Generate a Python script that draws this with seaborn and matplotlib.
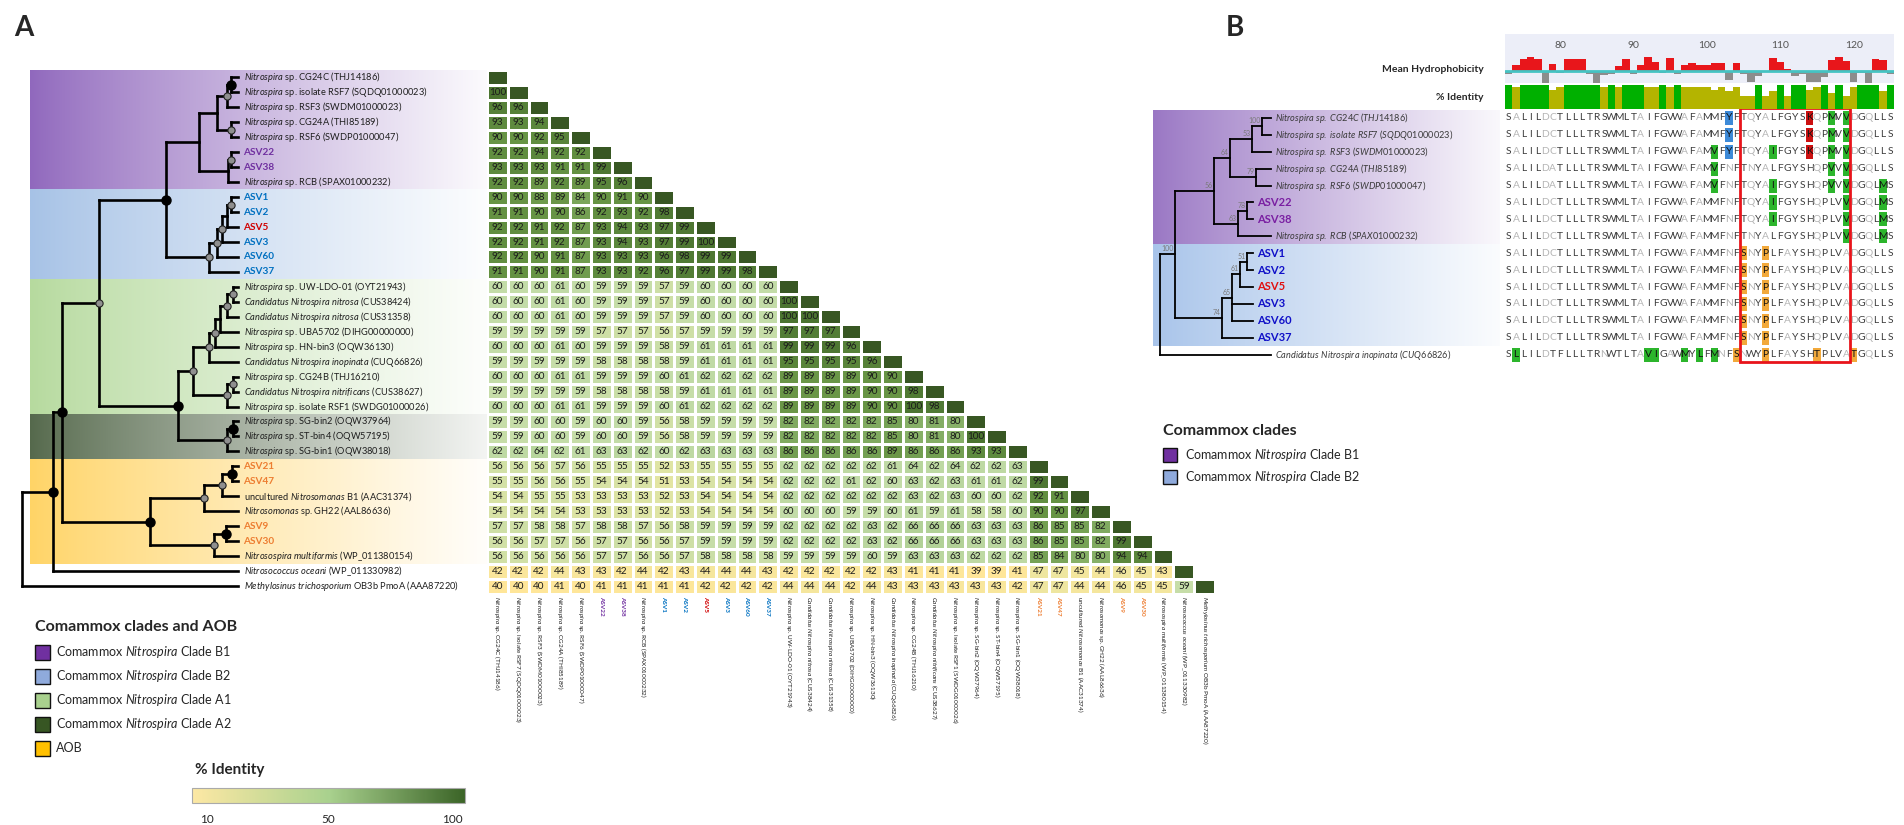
import numpy as np
import pandas as pd
import matplotlib
matplotlib.use("Agg")
import matplotlib.pyplot as plt
import seaborn as sns
from matplotlib.colors import LinearSegmentedColormap, ListedColormap, TwoSlopeNorm, to_rgb
from matplotlib.patches import Rectangle
import matplotlib.cm as cm

sns.set_style("white")
plt.rcParams["font.family"] = ["Lato", "DejaVu Sans"]
plt.rcParams["mathtext.fontset"] = "custom"
plt.rcParams["mathtext.rm"] = "Lato"
plt.rcParams["mathtext.it"] = "Lato:italic"
plt.rcParams["mathtext.bf"] = "Lato:bold"


def it(s):
    return "$\\it{" + s.replace(" ", "\\ ") + "}$"


# ---------------- panel A data ----------------
taxa = [
    it("Nitrospira") + " sp. CG24C (THJ14186)",
    it("Nitrospira") + " sp. isolate RSF7 (SQDQ01000023)",
    it("Nitrospira") + " sp. RSF3 (SWDM01000023)",
    it("Nitrospira") + " sp. CG24A (THI85189)",
    it("Nitrospira") + " sp. RSF6 (SWDP01000047)",
    "ASV22", "ASV38",
    it("Nitrospira") + " sp. RCB (SPAX01000232)",
    "ASV1", "ASV2", "ASV5", "ASV3", "ASV60", "ASV37",
    it("Nitrospira") + " sp. UW-LDO-01 (OYT21943)",
    it("Candidatus Nitrospira nitrosa") + " (CUS38424)",
    it("Candidatus Nitrospira nitrosa") + " (CUS31358)",
    it("Nitrospira") + " sp. UBA5702 (DIHG00000000)",
    it("Nitrospira") + " sp. HN-bin3 (OQW36130)",
    it("Candidatus Nitrospira inopinata") + " (CUQ66826)",
    it("Nitrospira") + " sp. CG24B (THJ16210)",
    it("Candidatus Nitrospira nitrificans") + " (CUS38627)",
    it("Nitrospira") + " sp. isolate RSF1 (SWDG01000026)",
    it("Nitrospira") + " sp. SG-bin2 (OQW37964)",
    it("Nitrospira") + " sp. ST-bin4 (OQW57195)",
    it("Nitrospira") + " sp. SG-bin1 (OQW38018)",
    "ASV21", "ASV47",
    "uncultured " + it("Nitrosomonas") + " B1 (AAC31374)",
    it("Nitrosomonas") + " sp. GH22 (AAL86636)",
    "ASV9", "ASV30",
    it("Nitrosospira multiformis") + " (WP_011380154)",
    it("Nitrosococcus oceani") + " (WP_011330982)",
    it("Methylosinus trichosporium") + " OB3b PmoA (AAA87220)",
]

asv_colors = {"ASV22": "#7030a0", "ASV38": "#7030a0",
              "ASV1": "#0070c0", "ASV2": "#0070c0", "ASV5": "#d00000", "ASV3": "#0070c0",
              "ASV60": "#0070c0", "ASV37": "#0070c0",
              "ASV21": "#ed7d31", "ASV47": "#ed7d31", "ASV9": "#ed7d31", "ASV30": "#ed7d31"}

# lower triangle of the % identity matrix (row i holds columns 1..i-1)
identity_rows = [
    [],
    [100],
    [96, 96],
    [93, 93, 94],
    [90, 90, 92, 95],
    [92, 92, 94, 92, 92],
    [93, 93, 93, 91, 91, 99],
    [92, 92, 89, 92, 89, 95, 96],
    [90, 90, 88, 89, 84, 90, 91, 90],
    [91, 91, 90, 90, 86, 92, 93, 92, 98],
    [92, 92, 91, 92, 87, 93, 94, 93, 97, 99],
    [92, 92, 91, 92, 87, 93, 94, 93, 97, 99, 100],
    [92, 92, 90, 91, 87, 93, 93, 93, 96, 98, 99, 99],
    [91, 91, 90, 91, 87, 93, 93, 92, 96, 97, 99, 99, 98],
    [60, 60, 60, 61, 60, 59, 59, 59, 57, 59, 60, 60, 60, 60],
    [60, 60, 60, 61, 60, 59, 59, 59, 57, 59, 60, 60, 60, 60, 100],
    [60, 60, 60, 61, 60, 59, 59, 59, 57, 59, 60, 60, 60, 60, 100, 100],
    [59, 59, 59, 59, 59, 57, 57, 57, 56, 57, 59, 59, 59, 59, 97, 97, 97],
    [60, 60, 60, 61, 60, 59, 59, 59, 58, 59, 61, 61, 61, 61, 99, 99, 99, 96],
    [59, 59, 59, 59, 59, 58, 58, 58, 58, 59, 61, 61, 61, 61, 95, 95, 95, 95, 96],
    [60, 60, 60, 61, 61, 59, 59, 59, 60, 61, 62, 62, 62, 62, 89, 89, 89, 89, 90, 90],
    [59, 59, 59, 59, 59, 58, 58, 58, 58, 59, 61, 61, 61, 61, 89, 89, 89, 89, 90, 90, 98],
    [60, 60, 60, 61, 61, 59, 59, 59, 60, 61, 62, 62, 62, 62, 89, 89, 89, 89, 90, 90, 100, 98],
    [59, 59, 60, 60, 59, 60, 60, 59, 56, 58, 59, 59, 59, 59, 82, 82, 82, 82, 82, 85, 80, 81, 80],
    [59, 59, 60, 60, 59, 60, 60, 59, 56, 58, 59, 59, 59, 59, 82, 82, 82, 82, 82, 85, 80, 81, 80, 100],
    [62, 62, 64, 62, 61, 63, 63, 62, 60, 62, 63, 63, 63, 63, 86, 86, 86, 86, 86, 89, 86, 86, 86, 93, 93],
    [56, 56, 56, 57, 56, 55, 55, 55, 52, 53, 55, 55, 55, 55, 62, 62, 62, 62, 62, 61, 64, 62, 64, 62, 62, 63],
    [55, 55, 56, 56, 55, 54, 54, 54, 51, 53, 54, 54, 54, 54, 62, 62, 62, 61, 62, 60, 63, 62, 63, 61, 61, 62, 99],
    [54, 54, 55, 55, 53, 53, 53, 53, 52, 53, 54, 54, 54, 54, 62, 62, 62, 62, 62, 62, 63, 62, 63, 60, 60, 62, 92, 91],
    [54, 54, 54, 54, 53, 53, 53, 53, 52, 53, 54, 54, 54, 54, 60, 60, 60, 59, 59, 60, 61, 59, 61, 58, 58, 60, 90, 90, 97],
    [57, 57, 58, 58, 57, 58, 58, 57, 56, 58, 59, 59, 59, 59, 62, 62, 62, 62, 63, 62, 66, 66, 66, 63, 63, 63, 86, 85, 85, 82],
    [56, 56, 57, 57, 56, 57, 57, 56, 56, 57, 59, 59, 59, 59, 62, 62, 62, 62, 63, 62, 66, 66, 66, 63, 63, 63, 86, 85, 85, 82, 99],
    [56, 56, 56, 56, 56, 57, 57, 56, 56, 57, 58, 58, 58, 58, 59, 59, 59, 59, 60, 59, 63, 63, 63, 62, 62, 62, 85, 84, 80, 80, 94, 94],
    [42, 42, 42, 44, 43, 43, 42, 44, 42, 43, 44, 44, 44, 43, 42, 42, 42, 42, 42, 43, 41, 41, 41, 39, 39, 41, 47, 47, 45, 44, 46, 45, 43],
    [40, 40, 40, 41, 40, 41, 41, 41, 41, 41, 42, 42, 42, 42, 44, 44, 44, 42, 44, 43, 43, 43, 43, 43, 43, 42, 47, 47, 44, 44, 46, 45, 45, 59],
]

# cladogram A: (node depth, support dot, children); leaves are row indices
tree_a = (22, "", [
    (53, "b", [
        (62, "b", [
            (99, "g", [
                (166, "b", [
                    (199, "", [
                        (217, "", [(227, "g", [(231, "b", [0, 1]), 2]),
                                   (231, "g", [3, 4])]),
                        (228, "", [(231, "g", [5, 6]), 7])]),
                    (209, "g", [
                        (217, "g", [
                            (222, "g", [(227, "", [(231, "g", [8, 9]), 10]), 11]),
                            12]),
                        13])]),
                (178, "b", [
                    (193, "g", [
                        (209, "g", [
                            (215, "g", [
                                (220, "", [(227, "g", [(233, "g", [14, 15]), 16]), 17]),
                                18]),
                            19]),
                        (227, "g", [(233, "g", [20, 21]), 22])]),
                    (227, "g", [(233, "b", [23, 24]), 25])])]),
            (150, "b", [
                (204, "g", [(222, "g", [(232, "b", [26, 27]), 28]), 29]),
                (214, "g", [(226, "b", [30, 31]), 32])])]),
        33]),
    34])
tip_a = 238

band_rows_a = [(0, 7), (8, 13), (14, 22), (23, 25), (26, 32)]
band_colors_a = ["#9068bd", "#a6c2e6", "#b6da9e", "#55694c", "#ffd466"]

legend_labels_a = ["Comammox " + it("Nitrospira") + " Clade B1",
                   "Comammox " + it("Nitrospira") + " Clade B2",
                   "Comammox " + it("Nitrospira") + " Clade A1",
                   "Comammox " + it("Nitrospira") + " Clade A2",
                   "AOB"]
legend_colors_a = ["#7030a0", "#8faadc", "#a9d18e", "#375623", "#ffc000"]
cbar_ticks = [10, 50, 100]

# ---------------- panel B data ----------------
b_names = [it("Nitrospira sp. CG24C (THJ14186)"),
           it("Nitrospira sp. isolate RSF7 (SQDQ01000023)"),
           it("Nitrospira sp. RSF3 (SWDM01000023)"),
           it("Nitrospira sp. CG24A (THI85189)"),
           it("Nitrospira sp. RSF6 (SWDP01000047)"),
           "ASV22", "ASV38",
           it("Nitrospira sp. RCB (SPAX01000232)"),
           "ASV1", "ASV2", "ASV5", "ASV3", "ASV60", "ASV37",
           it("Candidatus Nitrospira inopinata (CUQ66826)")]
b_colors = {"ASV22": "#7a1fa2", "ASV38": "#7a1fa2", "ASV5": "#e01010"}

seqs = [
    "SALILDCTLLLTRSWMLTAIFGVWAFAMMFYFTQYALFGYSKQPMVVDGQLLS",
    "SALILDCTLLLTRSWMLTAIFGVWAFAMMFYFTQYALFGYSKQPMVVDGQLLS",
    "SALILDCTLLLTRSWMLTAIFGVWAFAMVFYFTQYAIFGYSKQPMVVDGQLLS",
    "SALILDATLLLTRSWMLTAIFGVWAFAMVFNFTNYALFGYSHQPVVVDGQLLS",
    "SALILDATLLLTRSWMLTAIFGVWAFAMVFNFTQYAIFGYSHQPVVVDGQLMS",
    "SALILDCTLLLTRSWMLTAIFGVWAFAMMFNFTQYAIFGYSHQPLVVDGQLMS",
    "SALILDCTLLLTRSWMLTAIFGVWAFAMMFNFTQYAIFGYSHQPLVVDGQLMS",
    "SALILDCTLLLTRSWMLTAIFGVWAFAMMFNFTNYALFGYSHQPLVVDGQLMS",
    "SALILDCTLLLTRSWMLTAIFGVWAFAMMFNFSNYPLFAYSHQPLVADGQLLS",
    "SALILDCTLLLTRSWMLTAIFGVWAFAMMFNFSNYPLFAYSHQPLVADGQLLS",
    "SALILDCTLLLTRSWMLTAIFGVWAFAMMFNFSNYPLFAYSHQPLVADGQLLS",
    "SALILDCTLLLTRSWMLTAIFGVWAFAMMFNFSNYPLFAYSHQPLVADGQLLS",
    "SALILDCTLLLTRSWMLTAIFGVWAFAMMFNFSNYPLFAYSHQPLVADGQLLS",
    "SALILDCTLLLTRSWMLTAIFGVWAFAMMFNFSNYPLFAYSHQPLVADGQLLS",
    "SLLILDTFLLLTRNWTLTAVIGAWMYLFMNFSNWYPLFAYSHTPLVATGQLLS",
]
# highlighted (disagreeing) residues per row, 1-based columns
highlights = [
    [31, 42, 45, 47], [31, 42, 45, 47], [29, 31, 37, 42, 45, 47],
    [29, 45, 47], [29, 37, 45, 47, 52], [37, 47, 52], [37, 47, 52], [47, 52],
    [33, 36], [33, 36], [33, 36], [33, 36], [33, 36], [33, 36],
    [2, 20, 21, 25, 27, 29, 32, 36, 43, 48],
]
first_residue = 73
ruler_ticks = [80, 90, 100, 110, 120]
box_cols = (33, 47)

tree_b = (1160, "", [
    (1175, "100", [
        (1214, "56", [
            (1230, "64", [(1252, "53", [(1262, "100", [0, 1]), 2]),
                          (1256, "79", [3, 4])]),
            (1238, "63", [(1247, "78", [5, 6]), 7])]),
        (1222, "74", [
            (1232, "65", [(1240, "61", [(1247, "51", [8, 9]), 10]), 11, 12]),
            13])]),
    14])
band_rows_b = [(0, 7), (8, 13)]
band_colors_b = ["#9a77c4", "#a8c4ea"]
legend_labels_b = legend_labels_a[:2]
legend_colors_b = ["#7030a0", "#8faadc"]

kd = {'A': 1.8, 'R': -4.5, 'N': -3.5, 'D': -3.5, 'C': 2.5, 'Q': -3.5, 'E': -3.5, 'G': -0.4,
      'H': -3.2, 'I': 4.5, 'L': 3.8, 'K': -3.9, 'M': 1.9, 'F': 2.8, 'P': -1.6, 'S': -0.8,
      'T': -0.7, 'W': -0.9, 'Y': -1.3, 'V': 4.2}

# ---------------- figure ----------------
W, H = 1904, 825
fig = plt.figure(figsize=(W / 100, H / 100), dpi=100)


def px_axes(x0, y0, x1, y1, **kw):
    return fig.add_axes([x0 / W, 1 - y1 / H, (x1 - x0) / W, (y1 - y0) / H], **kw)


def hgrad(ax, x0, x1, r0, r1, color, fade=0.96, power=0.85):
    c = np.array(to_rgb(color))
    t = np.linspace(0, 1, 256) ** power * fade
    rgb = c[None, :] * (1 - t[:, None]) + t[:, None]
    ax.imshow(rgb[None, :, :], extent=[x0, x1, r1 + 0.5, r0 - 0.5], aspect="auto",
              zorder=0, interpolation="bilinear")


def draw_tree(ax, node, tips, lw, mark=None):
    x, tag, kids = node
    ys = []
    for k in kids:
        if isinstance(k, tuple):
            ky = draw_tree(ax, k, tips, lw, mark)
            kx = k[0]
        else:
            ky, kx = k, tips[k]
        ax.plot([x, kx], [ky, ky], color="black", lw=lw, solid_capstyle="projecting", zorder=2)
        ys.append(ky)
    ax.plot([x, x], [min(ys), max(ys)], color="black", lw=lw, solid_capstyle="projecting", zorder=2)
    y = (min(ys) + max(ys)) / 2
    if mark is not None:
        mark(ax, x, y, tag)
    return y


def dot_mark(ax, x, y, tag):
    if tag == "b":
        ax.plot(x, y, "o", ms=6.5, color="black", zorder=4)
    elif tag == "g":
        ax.plot(x, y, "o", ms=5.2, mfc="#8f8f8f", mec="#222222", mew=0.8, zorder=4)


def boot_mark(ax, x, y, tag):
    if tag:
        ax.text(x - 1.5, y - 0.12, tag, ha="right", va="bottom", fontsize=5, color="#7a7a7a")


# ---- tree A ----
n = len(taxa)
axt = px_axes(0, 70, 487, 593.5)
for (r0, r1), col in zip(band_rows_a, band_colors_a):
    hgrad(axt, 30, 487, r0, r1, col, fade=0.93 if col == "#55694c" else 0.97)
draw_tree(axt, tree_a, [tip_a] * n, 1.9, dot_mark)
for i, lab in enumerate(taxa):
    if lab in asv_colors:
        axt.text(tip_a + 5, i, lab, va="center", fontsize=7.2, fontweight="bold", color=asv_colors[lab])
    else:
        axt.text(tip_a + 6, i, lab, va="center", fontsize=6.7, color="#1e1e1e")
axt.set_xlim(0, 487)
axt.set_ylim(n - 0.5, -0.5)
axt.axis("off")

# ---- identity heatmap ----
mat = np.full((n, n), np.nan)
for i, row in enumerate(identity_rows):
    mat[i, :len(row)] = row
df = pd.DataFrame(mat)
annot = pd.DataFrame(np.vectorize(lambda v: "" if np.isnan(v) else str(int(v)))(mat))
diag_df = pd.DataFrame(np.where(np.eye(n, dtype=bool), 1.0, np.nan))

id_cmap = LinearSegmentedColormap.from_list("ident", [
    (0.0, "#ffe699"), (10 / 60, "#e6e6a3"), (20 / 60, "#c3dca8"), (30 / 60, "#a6ca8b"),
    (40 / 60, "#87b067"), (50 / 60, "#679444"), (1.0, "#4b7430")])

axh = px_axes(487, 70, 1215, 593.5)
sns.heatmap(df, mask=df.isna(), cmap=id_cmap, vmin=40, vmax=100, annot=annot, fmt="",
            annot_kws={"fontsize": 7.2, "color": "#1b1b1b"}, linewidths=0.9, linecolor="white",
            cbar=False, ax=axh)
sns.heatmap(diag_df, mask=diag_df.isna(), cmap=ListedColormap(["#385723"]), cbar=False,
            linewidths=0.9, linecolor="white", ax=axh)
axh.patch.set_alpha(0)
axh.set_yticks([])
axh.set_xticks(np.arange(n) + 0.5)
axh.set_xticklabels(taxa, rotation=270, fontsize=4.6)
axh.tick_params(axis="x", length=0, pad=2)
for lbl, name in zip(axh.get_xticklabels(), taxa):
    if name in asv_colors:
        lbl.set_color(asv_colors[name])
        lbl.set_fontweight("bold")
    else:
        lbl.set_color("#1e1e1e")
axh.set_xlabel("")
axh.set_ylabel("")

# ---------------- panel B ----------------
nb = len(seqs)
row_h = 16.9
y_top = 118 - row_h / 2
y_bot = 118 + (nb - 1) * row_h + row_h / 2

axtb = px_axes(1150, y_top, 1503, y_bot)
for (r0, r1), col in zip(band_rows_b, band_colors_b):
    hgrad(axtb, 1153, 1500, r0, r1, col, fade=0.95, power=0.9)
tips_b = [1253 if nm.startswith("ASV") else 1271 for nm in b_names]
draw_tree(axtb, tree_b, tips_b, 1.3, boot_mark)
for i, nm in enumerate(b_names):
    if nm.startswith("ASV"):
        axtb.text(tips_b[i] + 4, i, nm, va="center", fontsize=8, fontweight="bold",
                  color=b_colors.get(nm, "#1010c8"))
    else:
        axtb.text(tips_b[i] + 4, i, nm, va="center", fontsize=6.6, color="#3a3a3a")
axtb.set_xlim(1150, 1503)
axtb.set_ylim(nb - 0.5, -0.5)
axtb.axis("off")

# alignment
ncol = len(seqs[0])
cols = np.arange(1, ncol + 1)
axal = px_axes(1505, y_top, 1894, y_bot)


def res_color(ch):
    if ch in "FWY":
        return "#3d8ad8"
    if ch in "KRH":
        return "#cc1010"
    if ch in "AVLIMC":
        return "#2cb52c"
    return "#f2a93b"


for r, seq in enumerate(seqs):
    for c, ch in enumerate(seq, start=1):
        if c in highlights[r]:
            axal.add_patch(Rectangle((c - 0.5, r - 0.42), 1, 0.84, facecolor=res_color(ch), lw=0))
            tc = "#111111"
        else:
            tc = "#b5b5b5" if ch in "ACDNQ" else "#3c3c3c"
        axal.text(c, r, ch, ha="center", va="center", fontsize=7.4, color=tc)
axal.add_patch(Rectangle((box_cols[0] - 0.5, -0.62), box_cols[1] - box_cols[0] + 1, nb + 0.05,
                         fill=False, edgecolor="#e8141b", lw=2, clip_on=False, zorder=5))
axal.set_xlim(0.5, ncol + 0.5)
axal.set_ylim(nb - 0.5, -0.5)
axal.axis("off")

# tracks computed from the alignment
arr = np.array([list(s) for s in seqs])
hydro = np.array([np.mean([kd[a] for a in arr[:, j]]) for j in range(ncol)])
ident = []
for j in range(ncol):
    vals, cnts = np.unique(arr[:, j], return_counts=True)
    ident.append(cnts.max() / nb)
ident = np.array(ident)

axr = px_axes(1505, 34, 1894, 57, facecolor="#eceef8")
for t in ruler_ticks:
    axr.text(t - first_residue + 1, 0.5, str(t), ha="center", va="center", fontsize=7.5, color="#555555")
axr.set_xlim(0.5, ncol + 0.5)
axr.set_ylim(0, 1)
axr.set_xticks([])
axr.set_yticks([])
for s in axr.spines.values():
    s.set_visible(False)

axhy = px_axes(1505, 57, 1894, 83, facecolor="#eceef8")
axhy.bar(cols, hydro, width=1.0, color=np.where(hydro > 0, "#e8161b", "#8c8c8c"), lw=0)
axhy.axhline(0, color="#45c3c3", lw=2)
axhy.set_xlim(0.5, ncol + 0.5)
axhy.set_ylim(-3.5, 4.3)
axhy.set_xticks([])
axhy.set_yticks([])
for s in axhy.spines.values():
    s.set_visible(False)

axid = px_axes(1505, 83, 1894, 109)
axid.bar(cols, ident, width=1.0, color=np.where(ident >= 0.999, "#00b000", "#b4b400"), lw=0)
axid.set_xlim(0.5, ncol + 0.5)
axid.set_ylim(0, 1.08)
axid.axis("off")

# overlay for letters / legends (drawn on top)
ax0 = fig.add_axes([0, 0, 1, 1])
ax0.set_xlim(0, W)
ax0.set_ylim(H, 0)
ax0.axis("off")
ax0.patch.set_alpha(0)
ax0.set_zorder(10)

ax0.text(14, 28, "A", fontsize=20, fontweight="bold", va="center")
ax0.text(1226, 28, "B", fontsize=20, fontweight="bold", va="center")

ax0.text(35, 627, "Comammox clades and AOB", fontsize=11.5, fontweight="bold", va="center")
for k, (lab, col) in enumerate(zip(legend_labels_a, legend_colors_a)):
    yc = 652 + k * 24
    ax0.add_patch(Rectangle((35, yc - 7.5), 15, 15, facecolor=col, edgecolor="#111111", lw=1))
    ax0.text(56, yc, lab, fontsize=9, va="center")

ax0.text(195, 770, "% Identity", fontsize=11, fontweight="bold", va="center")
cax = px_axes(192, 788, 465, 803)
cb_cmap = LinearSegmentedColormap.from_list("cb", ["#fde8a4", "#a9d18e", "#3b6427"])
cb = fig.colorbar(cm.ScalarMappable(norm=TwoSlopeNorm(vmin=5, vcenter=50, vmax=105), cmap=cb_cmap),
                  cax=cax, orientation="horizontal", ticks=cbar_ticks)
cb.outline.set_edgecolor("#aaaaaa")
cb.outline.set_linewidth(0.8)
cax.tick_params(length=0, labelsize=8.5, pad=8)

ax0.text(1484, 70, "Mean Hydrophobicity", ha="right", va="center", fontsize=7.5, fontweight="bold")
ax0.text(1484, 97, "% Identity", ha="right", va="center", fontsize=7.5, fontweight="bold")

ax0.text(1163, 431, "Comammox clades", fontsize=11.5, fontweight="bold", va="center")
for k, (lab, col) in enumerate(zip(legend_labels_b, legend_colors_b)):
    yc = 455 + k * 22
    ax0.add_patch(Rectangle((1163, yc - 7), 14, 14, facecolor=col, edgecolor="#111111", lw=1))
    ax0.text(1185, yc, lab, fontsize=9, va="center")

fig.savefig("out.png", dpi=100)
